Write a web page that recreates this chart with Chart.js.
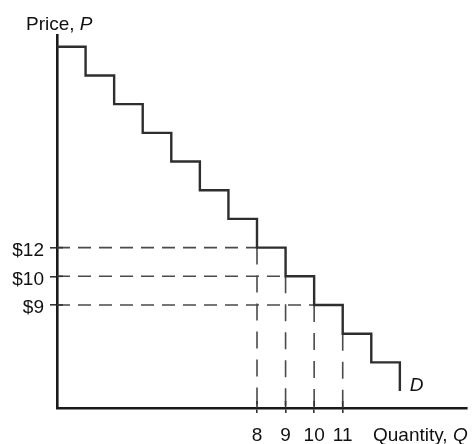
<!DOCTYPE html>
<html>
<head>
<meta charset="utf-8">
<script src="https://cdn.jsdelivr.net/npm/chart.js@4.4.1/dist/chart.umd.min.js"></script>
<style>
  html, body { margin: 0; padding: 0; background: #fff; }
  #wrap { width: 473px; height: 444px; }
</style>
</head>
<body>
<div id="wrap"><canvas id="c" width="473" height="444"></canvas></div>
<script>
// ---- data ----
const demandQuantity = [1, 2, 3, 4, 5, 6, 7, 8, 9, 10, 11, 12, 13];
const demandLevel    = [13, 12, 11, 10, 9, 8, 7, 6, 5, 4, 3, 2, 1]; // price steps (axis not to scale)
const priceTickLevels = [6, 5, 4];
const priceTickLabels = ['$12', '$10', '$9'];
const quantityTicks   = [8, 9, 10, 11];
const guideQuantity   = [8, 9, 10, 11];
const guideLevel      = [6, 5, 4, 3];
const yTitle = ['Price, ', 'P'];
const xTitle = ['Quantity, ', 'Q'];
const curveLabel = 'D';

const X_MIN = 1, X_MAX = 15.35, Y_MIN = 0.41, Y_MAX = 13.41;
const FONT = '"Liberation Sans", Arial, Helvetica, sans-serif';
const DASH_COLOR = '#4a4a4a';

const datasets = [];
// step demand curve
datasets.push({
  data: demandQuantity.map((q, i) => ({ x: q, y: demandLevel[i] })),
  stepped: 'before', borderColor: '#2e2e2e', borderWidth: 2.4,
  pointRadius: 0, fill: false, order: 0
});
// horizontal guides
priceTickLevels.forEach((lv, i) => {
  datasets.push({
    data: [{ x: X_MIN, y: lv }, { x: guideQuantity[i], y: lv }],
    borderColor: DASH_COLOR, borderWidth: 1.6, borderDash: [13, 8],
    pointRadius: 0, fill: false, order: 1
  });
});
// vertical guides
guideQuantity.forEach((q, i) => {
  datasets.push({
    data: [{ x: q, y: guideLevel[i] }, { x: q, y: Y_MIN }],
    borderColor: DASH_COLOR, borderWidth: 1.6, borderDash: [17, 11],
    pointRadius: 0, fill: false, order: 1
  });
});

const annotate = {
  id: 'annotate',
  afterDraw(chart) {
    const ctx = chart.ctx, xs = chart.scales.x, ys = chart.scales.y;
    const ca = chart.chartArea;
    ctx.save();
    // inward tick marks
    ctx.strokeStyle = '#333'; ctx.lineWidth = 1.6;
    quantityTicks.forEach(q => {
      const px = xs.getPixelForValue(q);
      ctx.beginPath(); ctx.moveTo(px, ca.bottom); ctx.lineTo(px, ca.bottom - 7); ctx.stroke();
    });
    priceTickLevels.forEach(v => {
      const py = ys.getPixelForValue(v);
      ctx.beginPath(); ctx.moveTo(ca.left, py); ctx.lineTo(ca.left + 6, py); ctx.stroke();
    });
    // titles
    ctx.fillStyle = '#111';
    ctx.textBaseline = 'alphabetic'; ctx.textAlign = 'left';
    ctx.font = '19px ' + FONT;
    let x0 = 26;
    ctx.fillText(yTitle[0], x0, 29.5);
    let w = ctx.measureText(yTitle[0]).width;
    ctx.font = 'italic 19px ' + FONT;
    ctx.fillText(yTitle[1], x0 + w, 29.5);

    ctx.font = '19px ' + FONT;
    x0 = 373;
    ctx.fillText(xTitle[0], x0, 441);
    w = ctx.measureText(xTitle[0]).width;
    ctx.font = 'italic 19px ' + FONT;
    ctx.fillText(xTitle[1], x0 + w, 441);

    // curve label
    const lx = xs.getPixelForValue(demandQuantity[demandQuantity.length - 1]) + 10;
    const ly = ys.getPixelForValue(demandLevel[demandLevel.length - 1]);
    ctx.fillText(curveLabel, lx, ly);
    ctx.restore();
  }
};

new Chart(document.getElementById('c'), {
  type: 'line',
  data: { datasets },
  options: {
    responsive: false,
    animation: false,
    devicePixelRatio: 1,
    layout: { padding: { top: 35, right: 6, left: 0, bottom: 0 } },
    plugins: { legend: { display: false }, tooltip: { enabled: false } },
    scales: {
      x: {
        type: 'linear', min: X_MIN, max: X_MAX,
        afterFit(s) { s.height = 36; },
        afterBuildTicks(s) { s.ticks = quantityTicks.map(v => ({ value: v })); },
        grid: { drawOnChartArea: false, drawTicks: true, tickLength: 5, color: '#333', lineWidth: 1.6 },
        border: { display: true, color: '#1a1a1a', width: 2.6 },
        ticks: { color: '#111', font: { family: FONT, size: 19 }, padding: 11, maxRotation: 0, autoSkip: false,
                 callback: v => String(v) }
      },
      y: {
        type: 'linear', min: Y_MIN, max: Y_MAX,
        afterFit(s) { s.width = 57; },
        afterBuildTicks(s) { s.ticks = priceTickLevels.map(v => ({ value: v })); },
        grid: { drawOnChartArea: false, drawTicks: true, tickLength: 7, color: '#333', lineWidth: 1.6 },
        border: { display: true, color: '#1a1a1a', width: 2.6 },
        ticks: { color: '#111', font: { family: FONT, size: 19 }, padding: 6, autoSkip: false, labelOffset: 3,
                 callback: v => { const i = priceTickLevels.indexOf(v); return i >= 0 ? priceTickLabels[i] : ''; } }
      }
    }
  },
  plugins: [annotate]
});
</script>
</body>
</html>
